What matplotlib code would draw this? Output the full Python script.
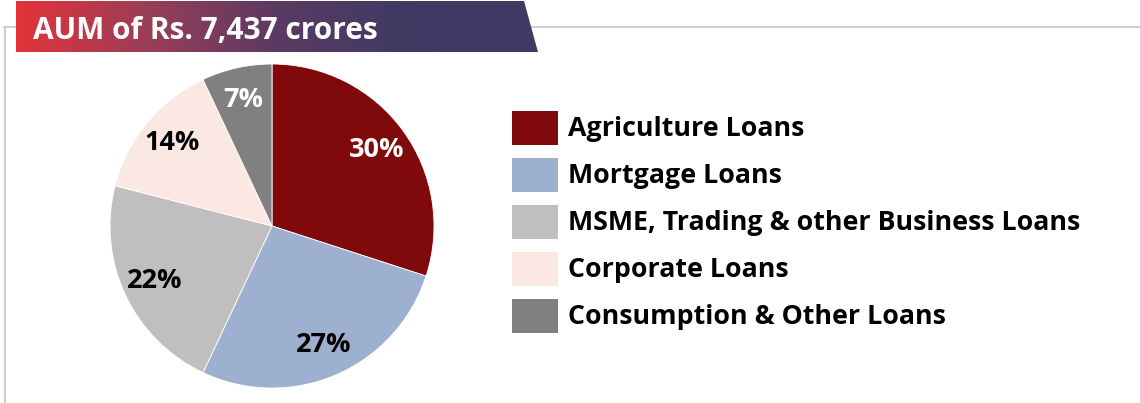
import numpy as np
import matplotlib
matplotlib.use("Agg")
import matplotlib.pyplot as plt
from matplotlib.patches import Polygon, Rectangle
from matplotlib.colors import LinearSegmentedColormap

# --- AUM split by loan type ---
title = "AUM of Rs. 7,437 crores"
categories = ["Agriculture Loans", "Mortgage Loans",
              "MSME, Trading & other Business Loans",
              "Corporate Loans", "Consumption & Other Loans"]
shares = [30, 27, 22, 14, 7]
colors = ["#800a0b", "#9db0cf", "#bfbfbf", "#fce8e2", "#808080"]
label_colors = ["white", "black", "black", "black", "white"]

W, H = 1140, 403
plt.rcParams["font.family"] = ["Open Sans", "DejaVu Sans"]
fig = plt.figure(figsize=(W / 100, H / 100), dpi=100)

# background axes in pixel coordinates (banner, frame, legend)
bg = fig.add_axes([0, 0, 1, 1])
bg.set_xlim(0, W)
bg.set_ylim(H, 0)
bg.axis("off")

# light grey panel frame
bg.plot([4, W], [27, 27], color="#cfcfcf", lw=1.5, zorder=1)
bg.plot([5, 5], [27, H], color="#cfcfcf", lw=1.5, zorder=1)

# gradient banner with slanted right edge
banner = Polygon([(16, 1), (524, 1), (538, 52), (16, 52)], closed=True,
                 facecolor="none", edgecolor="none")
bg.add_patch(banner)
cmap = LinearSegmentedColormap.from_list("banner", ["#e3333a", "#9a3e58", "#5a3a62", "#403a64", "#403a64"])
grad = np.linspace(0, 1, 256).reshape(1, -1)
im = bg.imshow(grad, cmap=cmap, extent=(16, 538, 52, 1), aspect="auto", zorder=2)
im.set_clip_path(banner)
bg.text(33, 39, title, color="white", fontsize=21.5, fontweight="bold",
        ha="left", va="baseline", zorder=3)

# legend drawn as boxes + text
for i, (name, c) in enumerate(zip(categories, colors)):
    yc = 128 + i * 47
    bg.add_patch(Rectangle((512, yc - 17), 46, 34, facecolor=c, edgecolor="none", zorder=2))
    bg.text(568, yc + 1, name, fontsize=19.3, fontweight="bold", color="black",
            ha="left", va="center", zorder=3)

# pie
cx, cy, r = 272, 226, 162
ax = fig.add_axes([(cx - r) / W, (H - cy - r) / H, 2 * r / W, 2 * r / H])
wedges, texts, autotexts = ax.pie(
    shares, colors=colors, startangle=90, counterclock=False,
    autopct=lambda p: f"{p:.0f}%", pctdistance=0.8,
    wedgeprops=dict(edgecolor="white", linewidth=0.6))
for t, lc in zip(autotexts, label_colors):
    t.set_color(lc)
    t.set_fontsize(19.5)
    t.set_fontweight("bold")
ax.set_xlim(-1, 1)
ax.set_ylim(-1, 1)
ax.set_aspect("equal")

fig.savefig("out.png", dpi=100)
